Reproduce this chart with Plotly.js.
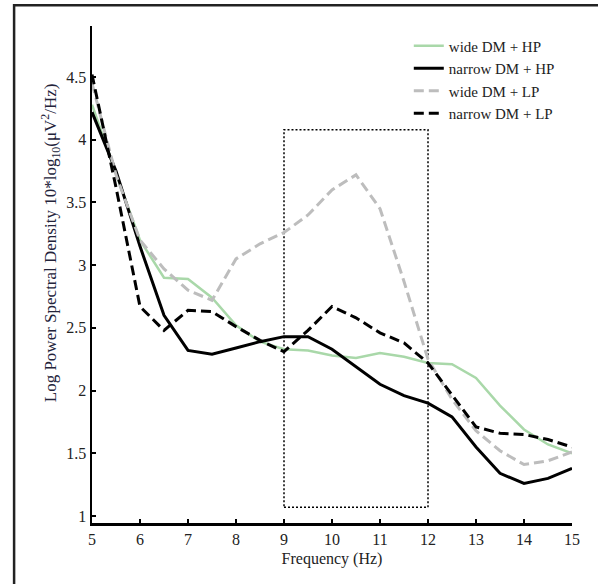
<!DOCTYPE html>
<html>
<head>
<meta charset="utf-8">
<script src="https://cdn.plot.ly/plotly-3.0.1.min.js"></script>
<style>html,body{margin:0;padding:0;background:#fff;}#chart{width:598px;height:584px;}</style>
</head>
<body>
<div id="chart"></div>
<script>
// Frequency (Hz)
const freq = [5,5.5,6,6.5,7,7.5,8,8.5,9,9.5,10,10.5,11,11.5,12,12.5,13,13.5,14,14.5,15];
// Log power spectral density series
const wideHP   = [4.28,3.73,3.20,2.90,2.89,2.74,2.52,2.39,2.33,2.32,2.28,2.26,2.30,2.27,2.22,2.21,2.10,1.88,1.69,1.57,1.50];
const narrowHP = [4.22,3.75,3.15,2.60,2.32,2.29,2.34,2.39,2.43,2.43,2.33,2.19,2.05,1.96,1.90,1.79,1.55,1.34,1.26,1.30,1.38];
const wideLP   = [4.45,3.72,3.20,2.97,2.80,2.72,3.05,3.17,3.26,3.40,3.60,3.72,3.45,2.87,2.25,1.93,1.68,1.52,1.41,1.44,1.51];
const narrowLP = [4.52,3.62,2.67,2.48,2.64,2.63,2.51,2.40,2.31,2.48,2.67,2.58,2.46,2.38,2.22,1.96,1.71,1.66,1.65,1.61,1.55];
const seriesNames = ['wide DM + HP','narrow DM + HP','wide DM + LP','narrow DM + LP'];
// Highlighted alpha band (Hz) and its vertical extent
const bandX = [9, 12];
const bandY = [1.07, 4.08];
const xTicks = [5,6,7,8,9,10,11,12,13,14,15];
const yTicks = [1,1.5,2,2.5,3,3.5,4,4.5];
const xTitle = 'Frequency (Hz)';
const yTitle = 'Log Power Spectral Density 10*log<sub>10</sub>(\u03bcV<sup>2</sup>/Hz)';

const serif = 'Liberation Serif, Times New Roman, serif';
const traces = [
  {x: freq, y: wideHP, name: seriesNames[0], mode: 'lines', line: {color: '#a9d8a9', width: 2.5}},
  {x: freq, y: narrowHP, name: seriesNames[1], mode: 'lines', line: {color: '#000000', width: 3}},
  {x: freq, y: wideLP, name: seriesNames[2], mode: 'lines', line: {color: '#bdbdbd', width: 3, dash: '10px,5px'}},
  {x: freq, y: narrowLP, name: seriesNames[3], mode: 'lines', line: {color: '#000000', width: 3, dash: '10px,5px'}}
];

const layout = {
  width: 598, height: 584,
  margin: {l: 92, r: 25.5, t: 26, b: 61},
  paper_bgcolor: '#ffffff', plot_bgcolor: '#ffffff',
  font: {family: serif, size: 16, color: '#222222'},
  showlegend: true,
  legend: {x: 0.66, y: 0.993, xanchor: 'left', yanchor: 'top', bgcolor: 'rgba(0,0,0,0)',
           font: {family: serif, size: 15, color: '#222222'}, tracegroupgap: 0},
  xaxis: {range: [5, 15], tickvals: xTicks, ticktext: xTicks.map(String),
          showgrid: false, zeroline: false, showline: true, linecolor: '#000', linewidth: 2.5,
          ticks: 'inside', ticklen: 4, tickwidth: 2, tickcolor: '#000',
          tickfont: {family: serif, size: 16, color: '#222'},
          title: {text: xTitle, font: {family: serif, size: 16, color: '#222'}, standoff: 6}},
  yaxis: {range: [0.944, 4.907], tickvals: yTicks, ticktext: yTicks.map(String),
          showgrid: false, zeroline: false, showline: true, linecolor: '#000', linewidth: 2.5,
          ticks: 'inside', ticklen: 4, tickwidth: 2, tickcolor: '#000',
          tickfont: {family: serif, size: 16, color: '#222'}},
  annotations: [
    {text: yTitle, xref: 'paper', yref: 'paper', x: -0.0874, y: 0.563, xanchor: 'center', yanchor: 'middle',
     textangle: -90, showarrow: false, font: {family: serif, size: 17, color: '#23233a'}}
  ],
  shapes: [
    {type: 'rect', xref: 'x', yref: 'y', x0: bandX[0], x1: bandX[1], y0: bandY[0], y1: bandY[1],
     line: {color: '#000', width: 1.5, dash: '2px,2px'}, fillcolor: 'rgba(0,0,0,0)', layer: 'below'},
    {type: 'rect', xref: 'paper', yref: 'paper', x0: -0.1623, x1: 1.3, y0: -0.3, y1: 1.042,
     line: {color: '#222', width: 2.5}, fillcolor: 'rgba(0,0,0,0)'}
  ]
};

Plotly.newPlot('chart', traces, layout, {displayModeBar: false, staticPlot: true});
</script>
</body>
</html>
